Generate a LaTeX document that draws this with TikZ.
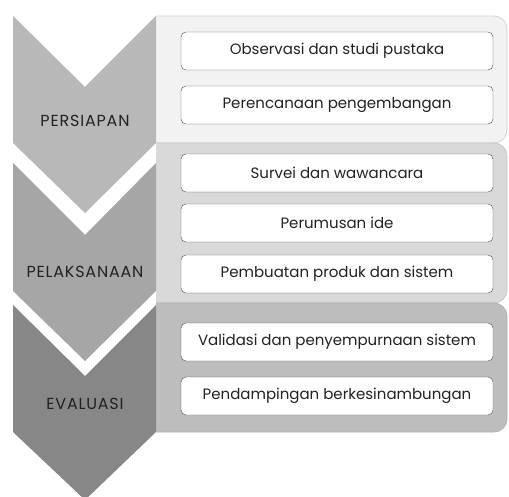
\documentclass[tikz,border=0pt]{standalone}
\usepackage{fontspec}
\setmainfont{Poppins}
\definecolor{inkgray}{HTML}{222222}
\begin{document}
\begin{tikzpicture}[x=1pt,y=-1pt,
    stepbox/.style={draw=black!70, fill=white, rounded corners=5pt,
      minimum width=312pt, minimum height=38pt, inner sep=0pt,
      text=inkgray, font=\fontsize{15}{17}\selectfont},
    phase/.style={text=inkgray, font=\fontsize{16}{18}\selectfont\addfontfeature{LetterSpace=5}},
    panel/.style={rounded corners=13pt, line width=0.8pt}]
    \useasboundingbox (0,0) rectangle (509,497);
    %% panels behind the boxes
    \begin{scope}
        \clip (156,0) rectangle (509,497);
        \draw[panel, draw=black!17, fill=black!5] (120,16) rectangle (507,143);
        \draw[panel, draw=black!22, fill=black!15] (120,143) rectangle (507,303);
        \draw[panel, draw=black!30, fill=black!26] (120,303) rectangle (507,432);
    \end{scope}
    %% chevrons
    \fill[black!28] (13,16) -- (85,87) -- (156,16) -- (156,143) -- (85,213) -- (13,143) -- cycle;
    \fill[black!35] (13,163) -- (85,235) -- (156,163) -- (156,291) -- (85,361) -- (13,291) -- cycle;
    \fill[black!47] (13,305) -- (85,376) -- (156,305) -- (156,432) -- (85,500) -- (13,432) -- cycle;
    %% phase names
    \node[phase] (persiapan) at (85,121) {PERSIAPAN};
    \node[phase] (pelaksanaan) at (85,272) {PELAKSANAAN};
    \node[phase] (evaluasi) at (85,404) {EVALUASI};
    %% steps
    \node[stepbox] (observasi) at (337,51) {Observasi dan studi pustaka};
    \node[stepbox] (perencanaan) at (337,105) {Perencanaan pengembangan};
    \node[stepbox] (survei) at (337,173) {Survei dan wawancara};
    \node[stepbox] (perumusan) at (337,223) {Perumusan ide};
    \node[stepbox] (pembuatan) at (337,274) {Pembuatan produk dan sistem};
    \node[stepbox] (validasi) at (337,342) {Validasi dan penyempurnaan sistem};
    \node[stepbox] (pendampingan) at (337,396) {Pendampingan berkesinambungan};
\end{tikzpicture}
\end{document}
